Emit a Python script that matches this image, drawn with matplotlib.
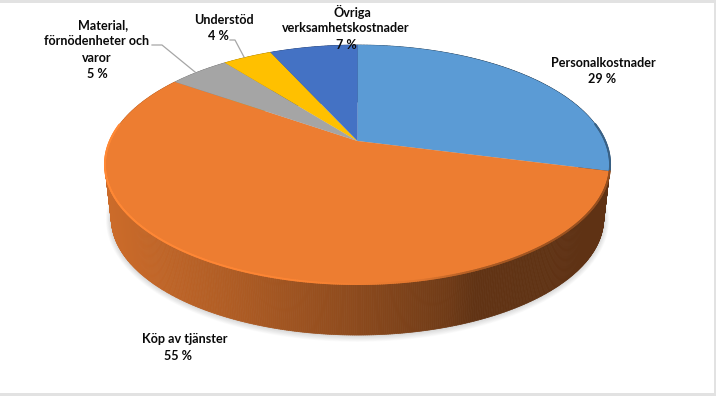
import numpy as np
import matplotlib
matplotlib.use("Agg")
import matplotlib.pyplot as plt
from matplotlib.collections import PolyCollection, LineCollection
from matplotlib.path import Path
from matplotlib.transforms import Transform, Affine2D

categories = ["Personalkostnader", "Köp av tjänster", "Material, förnödenheter och varor", "Understöd", "Övriga verksamhetskostnader"]
values = [29.0, 55.7, 4.7, 3.8, 6.8]
colors = ["#5B9BD5", "#ED7D31", "#A5A5A5", "#FFC000", "#4472C4"]

W, H = 716, 396
CX, CY = 357.5, 141.0
A, B, K = 247.6, 114.9, 0.1967
DEPTH, SCALE = 54.6, 0.975


def project(x, y, level=0.0):
    d = 1 + K * y
    s = SCALE if level else 1.0
    return CX + s * A * x / d, CY - s * B * y / d + (DEPTH if level else 0.0)


class Perspective(Transform):
    input_dims = output_dims = 2
    is_affine = False
    has_inverse = False

    def transform_non_affine(self, xy):
        xy = np.asarray(xy, float)
        return np.column_stack(project(xy[:, 0], xy[:, 1]))

    def transform_path_non_affine(self, path):
        scaled = path.transformed(Affine2D().scale(2000))
        polys = scaled.to_polygons(closed_only=True)
        return Path(self.transform_non_affine(polys[0] / 2000.0), closed=True)


def shade(x):
    return np.interp(x, [105, 230, 350, 450, 475, 610], [.86, .74, .60, .47, .41, .40])


fig = plt.figure(figsize=(W / 100, H / 100), dpi=100, facecolor="white")
ax = fig.add_axes([0, 0, 1, 1])
wedges, _ = ax.pie(values, colors=colors, startangle=90, counterclock=False, radius=1,
                   wedgeprops=dict(linewidth=0))
ax.set_aspect("auto")
ax.set_xlim(0, W)
ax.set_ylim(H, 0)
ax.axis("off")
persp = Perspective() + ax.transData
for w in wedges:
    w.set_transform(persp)
    w.set_zorder(5)

# soft shadow under the disc
t = np.radians(np.linspace(0, 360, 361))
for i in range(10):
    gx, gy = project(np.cos(t), np.sin(t), 1)
    grow = 1 - i / 10
    gx = CX + (gx - CX) * (1 + .022 * grow)
    gy = (CY + DEPTH + 3) + (gy - CY - DEPTH - 3) * (1 + .05 * grow)
    ax.fill(gx, gy, color="black", alpha=.014, lw=0, zorder=1)

# side wall, bevel along the visible rim
for w, col in zip(wedges, colors):
    base = np.array(matplotlib.colors.to_rgb(col))
    lo, hi = sorted((w.theta1, w.theta2))
    ang = np.radians(np.arange(lo, hi + .4, .4))
    ang[-1] = np.radians(hi)
    x, y = np.cos(ang), np.sin(ang)
    tx, ty = project(x, y)
    bx, by = project(x, y, 1)
    polys, cols = [], []
    for i in range(len(ang) - 1):
        polys.append([(tx[i], ty[i]), (tx[i + 1], ty[i + 1]), (bx[i + 1], by[i + 1]), (bx[i], by[i])])
        cols.append(base * shade(tx[i]))
    ax.add_collection(PolyCollection(polys, facecolors=cols, edgecolors=cols, linewidths=.5, zorder=2))
    idx = np.where(y[:-1] < .15)[0]
    segs = [[(tx[i], ty[i]), (tx[i + 1], ty[i + 1])] for i in idx]
    seg_cols = []
    for i in idx:
        f = np.interp(tx[i], [105, 300, 420, 480, 610], [1.09, 1.06, .95, .72, .62])
        seg_cols.append(np.clip(base * f, 0, 1))
    if segs:
        ax.add_collection(LineCollection(segs, colors=seg_cols, linewidths=1.4, zorder=6, capstyle="round"))

# leader lines
leader = "#A6A6A6"
ax.plot([152, 162, 195], [45, 45, 72], color=leader, lw=.9, zorder=7)
ax.plot([230, 235, 244], [40, 40, 57], color=leader, lw=.9, zorder=7)

# labels
labels = [
    ("Personalkostnader", 603, 63), ("29 %", 602, 79),
    ("Köp av tjänster", 185, 339), ("55 %", 178, 356),
    ("Material,", 103, 25), ("förnödenheter och", 97, 41), ("varor", 97, 58), ("5 %", 97, 74),
    ("Understöd", 224, 20), ("4 %", 218, 36),
    ("Övriga", 352, 12), ("verksamhetskostnader", 346, 28), ("7 %", 346, 45),
]
for s, lx, ly in labels:
    ax.text(lx, ly, s, ha="center", va="center", family="Lato", fontweight="bold",
            fontsize=9.1, color="#0A0A0A", zorder=8)

# frame of the screenshot
ax.fill([0, W, W, 0], [0, 0, 3, 3], color="#E2E2E2", lw=0, zorder=9)
ax.fill([0, W, W, 0], [393, 393, H, H], color="#E2E2E2", lw=0, zorder=9)
ax.fill([714, W, W, 714], [0, 0, H, H], color="#E2E2E2", lw=0, zorder=9)

fig.savefig("out.png", dpi=100, facecolor="white")
